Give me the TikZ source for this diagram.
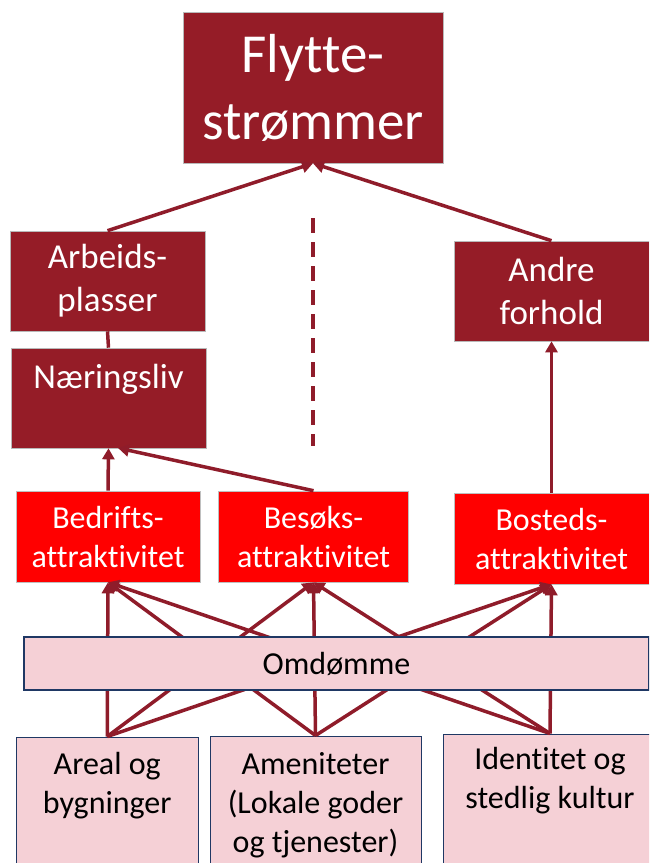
\documentclass[tikz,border=0pt]{standalone}
\usepackage{fontspec}
\setmainfont{Carlito}[Ligatures=NoCommon]
\usetikzlibrary{arrows.meta}
\definecolor{darkred}{HTML}{951C27}
\definecolor{arrowred}{HTML}{8F1C2A}
\definecolor{brightred}{HTML}{FF0000}
\definecolor{pinkfill}{HTML}{F5D0D6}
\definecolor{navy}{HTML}{1F3864}
\begin{document}
\begin{tikzpicture}[x=1pt,y=-1pt,
  darkbox/.style={rectangle, fill=darkred, draw=gray!55, line width=0.6pt, inner sep=0pt, text=white, align=center},
  redbox/.style={rectangle, fill=brightred, draw=gray!50, line width=0.6pt, inner sep=0pt, text=white, align=center, font=\fontsize{32}{39}\selectfont},
  pinkbox/.style={rectangle, fill=pinkfill, draw=navy, line width=1pt, inner sep=0pt},
  pinktext/.style={anchor=north, inner sep=0pt, align=center, text=black, font=\fontsize{32}{39}\selectfont},
  arr/.style={draw=arrowred, line width=3.5pt, -{Triangle[length=11pt,width=12pt]}},
  link/.style={draw=arrowred, line width=3.5pt},
  dashline/.style={draw=arrowred, line width=4pt, dash pattern=on 15pt off 9pt}
]
\useasboundingbox (0,0) rectangle (649,863);
\clip (0,0) rectangle (649,863);

% top box
\node[darkbox, minimum width=260pt, minimum height=151pt, font=\fontsize{55}{67}\selectfont] (flyt) at (313,87.5) {Flytte-\\strømmer};

% second level
\node[darkbox, minimum width=195pt, minimum height=100pt, font=\fontsize{35}{43}\selectfont] (arb) at (107.5,281) {Arbeids-\\plasser};
\node[darkbox, minimum width=195pt, minimum height=100pt] (naer) at (108.5,398) {};
\node[anchor=base, inner sep=0pt, text=white, font=\fontsize{35}{43}\selectfont] (naertxt) at (108.5,388) {Næringsliv};
\node[darkbox, minimum width=195pt, minimum height=100pt, font=\fontsize{35}{43}\selectfont] (andre) at (551.5,291) {Andre\\forhold};

% attractivity boxes
\node[redbox, minimum width=184pt, minimum height=91pt] (bedr) at (108,536.5) {Bedrifts-\\attraktivitet};
\node[redbox, minimum width=190pt, minimum height=91pt] (besok) at (313.5,536.5) {Besøks-\\attraktivitet};
\node[redbox, minimum width=195pt, minimum height=91pt] (bost) at (551.5,538.5) {Bosteds-\\attraktivitet};

% bottom boxes
\node[pinkbox, minimum width=181.5pt, minimum height=200pt] (areal) at (107.25,837) {};
\node[pinkbox, minimum width=211pt, minimum height=200pt] (amen) at (315.5,836) {};
\node[pinkbox, minimum width=214pt, minimum height=200pt] (ident) at (550,834) {};
\node[pinktext] (arealtxt) at (107.25,752.5) {Areal og\\bygninger};
\node[pinktext] (amentxt) at (315.5,752.5) {Ameniteter\\(Lokale goder\\og tjenester)};
\node[pinktext] (identtxt) at (550,747.5) {Identitet og\\stedlig kultur};

% dashed separator
\coordinate (dtop) at (313,218);
\coordinate (dbot) at (313,446);
\draw[dashline] (dtop) -- (dbot);

% connectors upper part
\draw[arr] (arb.north) -- (flyt.south);
\draw[arr] (andre.north) -- (flyt.south);
\draw[link] (arb.south) -- (naer.north);
\coordinate (naerin) at (118,448);
\draw[arr] (bedr.north) -- (naer.south);
\draw[arr] (besok.north) -- (naerin);
\draw[arr] (bost.north) -- (andre.south);

% connectors from bottom boxes
\foreach \s in {areal,amen,ident}{
  \foreach \t in {bedr,besok,bost}{
    \draw[arr] (\s.north) -- (\t.south);
  }
}

% reputation band on top of the connectors
\node[rectangle, fill=pinkfill, draw=navy, line width=1.5pt, inner sep=0pt, minimum width=625pt, minimum height=53pt, font=\fontsize{32}{39}\selectfont] (omd) at (336.5,663.5) {Omdømme};
\end{tikzpicture}
\end{document}
